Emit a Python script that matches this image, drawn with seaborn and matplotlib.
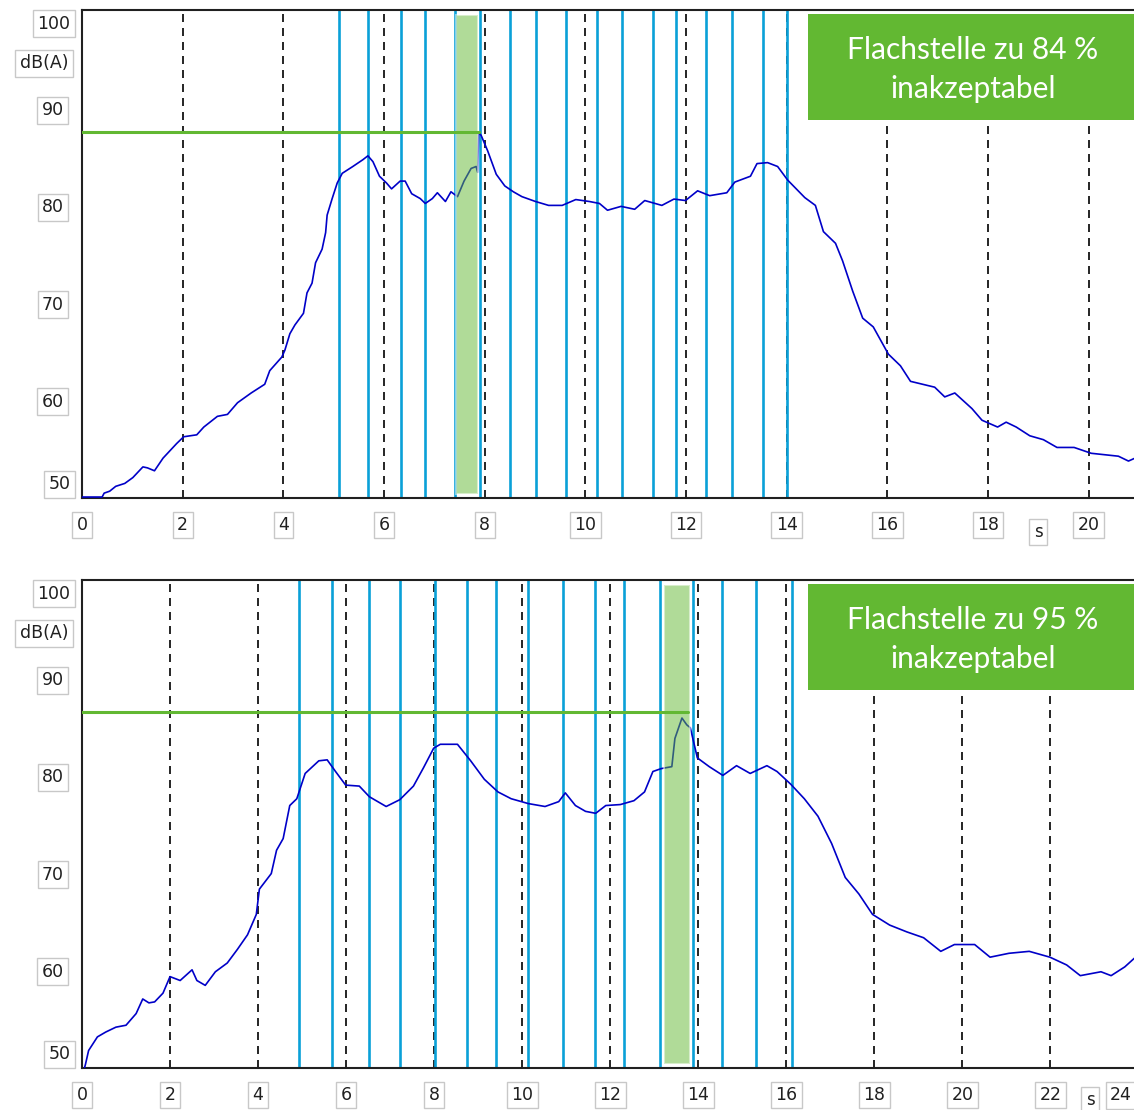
import matplotlib
matplotlib.use("Agg")
import matplotlib.pyplot as plt
from matplotlib.ticker import MultipleLocator
from matplotlib.patches import Rectangle
import seaborn as sns

# --- data ---
top_t = [0.0, 0.2, 0.40, 0.44, 0.55, 0.67, 0.85, 1.01, 1.21, 1.30, 1.44, 1.61, 1.88, 2.02,
         2.28, 2.42, 2.69, 2.89, 3.09, 3.36, 3.63, 3.73, 3.97, 4.03, 4.13, 4.23, 4.40, 4.47,
         4.57, 4.64, 4.77, 4.84, 4.87, 4.97, 5.07, 5.17, 5.38, 5.58, 5.68, 5.78, 5.91, 6.05,
         6.15, 6.32, 6.42, 6.55, 6.72, 6.82, 6.96, 7.06, 7.22, 7.33, 7.46, 7.59, 7.73, 7.83,
         7.86, 7.88, 7.93, 8.06, 8.23, 8.40, 8.57, 8.74, 9.01, 9.27, 9.54, 9.81, 10.08, 10.28,
         10.44, 10.71, 10.98, 11.18, 11.52, 11.76, 11.99, 12.23, 12.47, 12.81, 12.97, 13.28,
         13.41, 13.62, 13.82, 14.02, 14.36, 14.57, 14.73, 14.97, 15.11, 15.31, 15.51, 15.72,
         16.02, 16.26, 16.46, 16.94, 17.14, 17.34, 17.68, 17.88, 18.19, 18.36, 18.56, 18.83,
         19.10, 19.37, 19.71, 20.05, 20.59, 20.79, 20.92]
top_db = [50.0, 50.0, 50.0, 50.4, 50.6, 51.1, 51.4, 52.0, 53.1, 53.0, 52.7, 54.0, 55.5, 56.2,
          56.4, 57.2, 58.3, 58.5, 59.7, 60.7, 61.6, 63.0, 64.4, 65.1, 66.8, 67.7, 68.9, 71.0,
          72.0, 74.1, 75.5, 77.2, 79.0, 80.7, 82.3, 83.3, 84.0, 84.7, 85.1, 84.5, 83.0, 82.3,
          81.7, 82.5, 82.5, 81.2, 80.7, 80.2, 80.7, 81.3, 80.4, 81.4, 80.9, 82.5, 83.8, 84.0,
          83.4, 87.5, 87.2, 85.6, 83.2, 82.0, 81.4, 80.9, 80.4, 80.0, 80.0, 80.6, 80.4, 80.2,
          79.5, 79.9, 79.6, 80.5, 80.0, 80.65, 80.5, 81.5, 81.0, 81.3, 82.4, 83.0,
          84.3, 84.4, 84.0, 82.6, 80.8, 80.0, 77.3, 76.1, 74.3, 71.2, 68.4, 67.5,
          64.7, 63.5, 61.9, 61.3, 60.3, 60.7, 59.1, 57.9, 57.2, 57.7, 57.2, 56.3,
          55.9, 55.1, 55.1, 54.5, 54.2, 53.7, 54.0]
top_marks = [5.11, 5.68, 6.33, 6.81, 7.42, 7.91, 8.50, 9.01, 9.61, 10.24, 10.72, 11.34,
             11.81, 12.40, 12.92, 13.53, 14.01]
top_span = (7.44, 7.86)
top_peak = (7.88, 87.6)
top_label = "Flachstelle zu 84 %\ninakzeptabel"

bot_t = [0.0, 0.05, 0.08, 0.15, 0.35, 0.54, 0.77, 1.0, 1.23, 1.38, 1.52, 1.65, 1.84, 2.0,
         2.23, 2.50, 2.61, 2.80, 3.03, 3.30, 3.53, 3.76, 3.96, 4.03, 4.30, 4.42, 4.57, 4.72,
         4.88, 5.07, 5.38, 5.57, 5.76, 5.99, 6.30, 6.53, 6.91, 7.22, 7.53, 7.76, 7.99, 8.14,
         8.53, 8.83, 9.14, 9.45, 9.75, 10.14, 10.52, 10.83, 10.98, 11.21, 11.44, 11.67, 11.90,
         12.23, 12.54, 12.78, 12.97, 13.16, 13.40, 13.47, 13.63, 13.74, 13.82, 13.98, 14.25,
         14.56, 14.87, 15.18, 15.56, 15.79, 16.10, 16.41, 16.72, 17.03, 17.34, 17.65, 17.96,
         18.35, 18.74, 19.12, 19.51, 19.82, 20.28, 20.63, 21.06, 21.52, 21.99, 22.37, 22.68,
         23.15, 23.38, 23.69, 23.91]
bot_db = [49.6, 49.8, 50.3, 51.7, 53.1, 53.6, 54.1, 54.3, 55.5, 57.0, 56.6, 56.7, 57.6, 59.3,
          58.9, 60.0, 58.9, 58.4, 59.8, 60.7, 62.1, 63.6, 65.7, 68.3, 69.9, 72.3, 73.5, 76.9,
          77.6, 80.2, 81.5, 81.6, 80.4, 79.0, 78.9, 77.8, 76.8, 77.5, 78.9, 80.8, 82.8, 83.2,
          83.2, 81.5, 79.6, 78.3, 77.6, 77.1, 76.8, 77.3, 78.2, 76.9, 76.3, 76.1, 76.9,
          77.0, 77.4, 78.3, 80.4, 80.7, 80.9, 83.8, 85.9, 85.2, 84.9, 81.8, 80.9,
          80.0, 81.0, 80.2, 81.0, 80.4, 79.1, 77.6, 75.8, 73.0, 69.5, 67.8, 65.7,
          64.6, 63.9, 63.3, 61.9, 62.6, 62.6, 61.3, 61.7, 61.9, 61.3, 60.5, 59.4,
          59.8, 59.4, 60.3, 61.2]
bot_marks = [4.94, 5.69, 6.51, 7.22, 8.03, 8.74, 9.41, 10.13, 10.92, 11.65, 12.31, 13.14,
             13.89, 14.55, 15.32, 16.12]
bot_span = (13.23, 13.81)
bot_peak = (13.77, 86.5)
bot_label = "Flachstelle zu 95 %\ninakzeptabel"

BLUE = "#0000c8"
MARK = "#0aa0d8"
GREEN = "#62b832"
BOX = dict(boxstyle="square,pad=0.25", fc="white", ec="#c8c8c8", lw=1)

sns.set_style("white")
plt.rcParams["font.family"] = ["DejaVu Sans"]

fig = plt.figure(figsize=(11.34, 11.10), dpi=100)
ax_top = fig.add_axes([82 / 1134, 1 - 498 / 1110, 1052 / 1134, 488 / 1110])
ax_bot = fig.add_axes([82 / 1134, 1 - 1068 / 1110, 1052 / 1134, 488 / 1110])


def draw_panel(ax, t, db, marks, span, peak, label, xmax, s_pos):
    ax.set_xlim(0, xmax)
    ax.set_ylim(49.9, 100.1)

    ax.xaxis.set_major_locator(MultipleLocator(2))
    ax.xaxis.set_minor_locator(MultipleLocator(0.2))
    ax.yaxis.set_minor_locator(MultipleLocator(1))
    ax.set_yticks([50, 60, 70, 80, 90, 100])
    ax.set_yticklabels(["", "60", "70", "80", "90", ""])
    ax.grid(axis="x", which="major", color="black", lw=1.2,
            linestyle=(0, (4.8, 3.6)), zorder=0)
    ax.set_axisbelow(True)

    for m in marks:
        ax.axvline(m, color=MARK, lw=1.9, zorder=2)

    sns.lineplot(x=t, y=db, ax=ax, color=BLUE, lw=1.2, estimator=None,
                 sort=False, zorder=3)

    ax.axvspan(span[0], span[1], ymin=0.008, ymax=0.99, fc=GREEN, alpha=0.5,
               ec="white", lw=1.5, zorder=4)
    ax.plot([0, peak[0]], [peak[1], peak[1]], color=GREEN, lw=2.2, zorder=5)

    ax.add_patch(Rectangle((0.690, 0.775), 0.32, 0.217, transform=ax.transAxes,
                           fc=GREEN, ec="none", zorder=6, clip_on=False))
    ax.text(0.847, 0.878, label, transform=ax.transAxes, ha="center", va="center",
            color="white", fontsize=21.5, family=["Lato", "DejaVu Sans"],
            linespacing=1.48, zorder=7)

    ax.spines["right"].set_visible(False)
    for s in ["left", "bottom", "top"]:
        ax.spines[s].set_color("#202020")
        ax.spines[s].set_linewidth(1.5)

    ax.tick_params(axis="both", which="major", direction="out", length=7, width=1.5,
                   color="#202020", labelsize=12.5, labelcolor="#202020")
    ax.tick_params(axis="both", which="minor", direction="out", length=4, width=1.5,
                   color="#202020")
    ax.tick_params(axis="y", which="major", pad=6)
    ax.tick_params(axis="x", which="major", pad=6)
    for lab in ax.get_xticklabels() + ax.get_yticklabels():
        lab.set_bbox(BOX)

    # end labels of the y axis sit inside the range, like the original
    ytrans = ax.get_yaxis_transform()
    ax.text(-0.011, 98.7, "100", transform=ytrans, ha="right", va="center",
            fontsize=12.5, color="#202020", bbox=BOX)
    ax.text(-0.011, 51.3, "50", transform=ytrans, ha="right", va="center",
            fontsize=12.5, color="#202020", bbox=BOX)
    ax.text(-0.013, 94.6, "dB(A)", transform=ytrans, ha="right", va="center",
            fontsize=12.5, color="#202020", bbox=BOX)
    ax.set_xlabel("")
    ax.set_ylabel("")
    fig.text(s_pos[0], s_pos[1], "s", ha="center", va="center", fontsize=12,
             color="#202020", bbox=BOX)


draw_panel(ax_top, top_t, top_db, top_marks, top_span, top_peak, top_label,
           20.9, (1038 / 1134, 1 - 532 / 1110))
draw_panel(ax_bot, bot_t, bot_db, bot_marks, bot_span, bot_peak, bot_label,
           23.9, (1090 / 1134, 1 - 1100 / 1110))
# the 24 s label sits at the right edge in the original
ax_bot.text(0.998, -0.056, "24", transform=ax_bot.transAxes, ha="right",
            va="center", fontsize=12.5, color="#202020", bbox=BOX, clip_on=False)

fig.savefig("out.png", dpi=100)
